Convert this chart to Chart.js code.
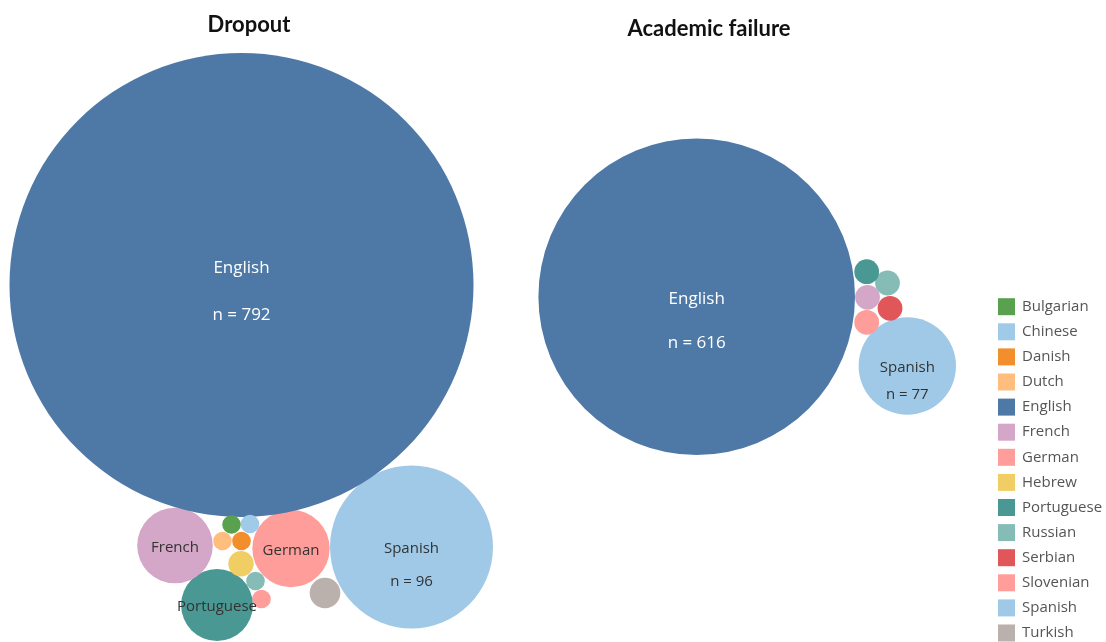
<!DOCTYPE html>
<html>
<head>
<meta charset="utf-8">
<title>Dropout and academic failure by language</title>
<script src="https://cdn.jsdelivr.net/npm/chart.js@4.4.1/dist/chart.umd.min.js"></script>
<style>
  html, body { margin: 0; padding: 0; background: #ffffff; }
  #wrap { position: relative; width: 1106px; height: 642px; }
</style>
</head>
<body>
<div id="wrap"><canvas id="bubbleChart" width="1106" height="642"></canvas></div>
<script>
// Languages, one legend entry each
var languages = ['Bulgarian', 'Chinese', 'Danish', 'Dutch', 'English', 'French', 'German',
    'Hebrew', 'Portuguese', 'Russian', 'Serbian', 'Slovenian', 'Spanish', 'Turkish'];

// Dropout panel: counts and packed bubble centres (null = language not in panel)
var dropoutN = [1, 1, 1, 1, 792, 20, 21, 2, 18, 1, null, 1, 96, 3];
var dropoutX = [231.5, 250, 241.5, 222.5, 241.5, 175, 291, 241, 217, 255.5, null, 261.5, 411.5, 325];
var dropoutY = [524.5, 524, 541, 541, 285, 545.5, 548.5, 563.7, 605, 581, null, 599, 547, 593];

// Academic failure panel
var failureN = [null, null, null, null, 616, 12, 12, null, 12, 12, 12, null, 77, null];
var failureX = [null, null, null, null, 696.7, 867.5, 866.7, null, 866.7, 887.5, 890, null, 907.3, null];
var failureY = [null, null, null, null, 296.7, 297.3, 322.3, null, 271.7, 283, 308.3, null, 366, null];

// Panel titles
var panelTitles = ['Dropout', 'Academic failure'];

// Tableau 20 style colours, same order as languages
var colors = ['#59A14F', '#A0CBE8', '#F28E2B', '#FFBE7D', '#4E79A7', '#D4A6C8', '#FF9D9A',
    '#F1CE63', '#499894', '#86BCB6', '#E15759', '#FF9D9A', '#9FC9E7', '#BAB0AC'];

var labelFont = '"Open Sans", "DejaVu Sans", sans-serif';

// Size a bubble by sqrt of its count, between a min and max radius
function makeRadius(counts, rMin, rMax) {
    var vals = counts.filter(v => v != null);
    var lo = Math.sqrt(Math.min.apply(null, vals));
    var hi = Math.sqrt(Math.max.apply(null, vals));
    return n => rMin + (rMax - rMin) * (Math.sqrt(n) - lo) / (hi - lo);
}

var dropoutRadius = makeRadius(dropoutN, 9.3, 232);
var failureRadius = makeRadius(failureN, 12.4, 158.3);

// Build one dataset per language holding its bubbles in both panels
function buildDatasets() {
    return languages.map(function (lang, i) {
        var points = [];
        if (dropoutN[i] != null) {
            points.push({ x: dropoutX[i], y: dropoutY[i], r: dropoutRadius(dropoutN[i]), n: dropoutN[i] });
        }
        if (failureN[i] != null) {
            points.push({ x: failureX[i], y: failureY[i], r: failureRadius(failureN[i]), n: failureN[i] });
        }
        return {
            label: lang,
            data: points,
            backgroundColor: colors[i],
            borderWidth: 0,
            hoverBorderWidth: 0,
            hoverRadius: 0,
            clip: false
        };
    });
}

// Bubble labels, titles and legend
var annotatePlugin = {
    id: 'annotate',
    afterDatasetsDraw: function (chart) {
        var ctx = chart.ctx;
        ctx.save();
        ctx.textAlign = 'center';
        ctx.textBaseline = 'middle';
        chart.data.datasets.forEach(function (ds, i) {
            var meta = chart.getDatasetMeta(i);
            meta.data.forEach(function (el, j) {
                var raw = ds.data[j];
                if (raw.r < 30) return;
                var big = raw.r > 100;
                var size = big ? 17 : 15;
                ctx.fillStyle = languages[i] === 'English' ? '#ffffff' : '#333333';
                ctx.font = size + 'px ' + labelFont;
                var nameY = el.y + (raw.r > 200 ? -17 : 2);
                ctx.fillText(ds.label, el.x, nameY);
                if (raw.r > 45) {
                    var gap = big ? (raw.r > 200 ? 47 : 44) : (raw.r > 60 ? 33 : 27);
                    ctx.fillText('n = ' + raw.n, el.x, nameY + gap);
                }
            });
        });
        ctx.restore();
    },
    afterDraw: function (chart) {
        var ctx = chart.ctx;
        ctx.save();
        // Panel titles
        var titlePos = [[249, 25], [709, 29]];
        ctx.fillStyle = '#111111';
        ctx.font = 'bold 22px Lato, "Open Sans", sans-serif';
        ctx.textAlign = 'center';
        ctx.textBaseline = 'middle';
        panelTitles.forEach(function (t, k) {
            ctx.fillText(t, titlePos[k][0], titlePos[k][1]);
        });
        // Legend
        ctx.textAlign = 'left';
        ctx.font = '15px ' + labelFont;
        languages.forEach(function (lang, i) {
            var cy = 306.7 + i * 25.1;
            ctx.fillStyle = colors[i];
            ctx.fillRect(998, cy - 8.5, 17, 17);
            ctx.fillStyle = '#555555';
            ctx.fillText(lang, 1022, cy);
        });
        ctx.restore();
    }
};

// Get the canvas element
var canvas = document.getElementById('bubbleChart');

if (canvas && canvas.getContext) {
    var bubbleChart = new Chart(canvas, {
        type: 'bubble',
        data: { datasets: buildDatasets() },
        options: {
            responsive: false,
            animation: false,
            events: [],
            layout: { padding: 0, autoPadding: false },
            plugins: {
                legend: { display: false },
                tooltip: { enabled: false },
                title: { display: false }
            },
            scales: {
                x: { type: 'linear', min: 0, max: 1106, display: false },
                y: { type: 'linear', min: 0, max: 642, reverse: true, display: false }
            }
        },
        plugins: [annotatePlugin]
    });
}
</script>
</body>
</html>
